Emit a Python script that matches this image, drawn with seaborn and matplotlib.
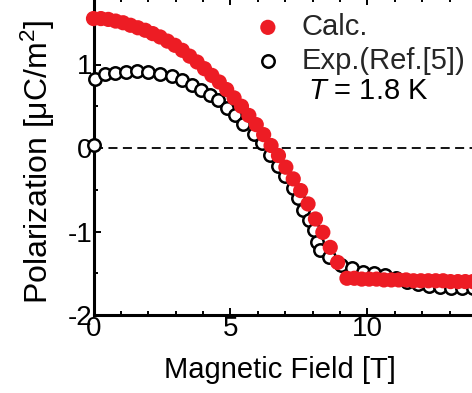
import matplotlib
matplotlib.use("Agg")
import matplotlib.pyplot as plt
from matplotlib.ticker import MultipleLocator
import seaborn as sns

# Calculated polarization vs. magnetic field
field_calc = [0.00, 0.27, 0.54, 0.81, 1.08, 1.35, 1.62, 1.89, 2.16, 2.43,
              2.70, 2.97, 3.24, 3.51, 3.78, 4.05, 4.32, 4.59, 4.86, 5.13,
              5.40, 5.67, 5.94, 6.21, 6.48, 6.75, 7.02, 7.29, 7.56, 7.83,
              8.10, 8.37, 8.64, 8.91, 9.25, 9.52, 9.79, 10.06, 10.33, 10.60,
              10.87, 11.14, 11.41, 11.68, 11.95, 12.22, 12.49, 12.76, 13.03, 13.30,
              13.57, 13.84, 14.11, 14.38]
pol_calc = [1.55, 1.55, 1.54, 1.52, 1.50, 1.47, 1.44, 1.41, 1.37, 1.33,
            1.28, 1.23, 1.17, 1.10, 1.03, 0.95, 0.87, 0.79, 0.70, 0.60,
            0.50, 0.39, 0.28, 0.16, 0.03, -0.09, -0.23, -0.37, -0.51, -0.67,
            -0.85, -1.01, -1.19, -1.37, -1.56, -1.56, -1.57, -1.57, -1.57, -1.58,
            -1.58, -1.58, -1.58, -1.59, -1.59, -1.59, -1.59, -1.59, -1.60, -1.60,
            -1.60, -1.60, -1.60, -1.60]

# Measured polarization (Ref. [5])
field_exp = [0.00, 0.06, 0.43, 0.80, 1.19, 1.58, 2.00, 2.43, 2.86, 3.23,
             3.59, 3.93, 4.26, 4.55, 4.87, 5.17, 5.47, 5.84, 6.15, 6.45,
             6.75, 6.98, 7.28, 7.48, 7.66, 7.85, 8.03, 8.15, 8.27, 8.58,
             9.05, 9.43, 9.85, 10.22, 10.65, 11.05, 11.45, 11.85, 12.25, 12.65,
             13.05, 13.45, 13.85, 14.25]
pol_exp = [0.03, 0.83, 0.89, 0.90, 0.91, 0.92, 0.91, 0.89, 0.86, 0.81,
           0.75, 0.70, 0.63, 0.57, 0.48, 0.40, 0.29, 0.17, 0.06, -0.08,
           -0.22, -0.34, -0.48, -0.60, -0.74, -0.86, -0.98, -1.12, -1.22, -1.31,
           -1.40, -1.44, -1.48, -1.50, -1.52, -1.56, -1.60, -1.63, -1.65, -1.67,
           -1.68, -1.68, -1.68, -1.68]

x_ticks = [0, 5, 10]
y_ticks = [-2, -1, 0, 1]

sns.set_theme(style="ticks")
plt.rcParams['font.family'] = ['Liberation Sans', 'DejaVu Sans']
plt.rcParams['mathtext.fontset'] = 'custom'
plt.rcParams['mathtext.rm'] = 'Liberation Sans'
plt.rcParams['mathtext.it'] = 'Liberation Sans:italic'
plt.rcParams['axes.unicode_minus'] = False

W, H = 472, 393
X_MAX = 14.3
fig = plt.figure(figsize=(W / 100, H / 100), dpi=100)
ax = fig.add_axes([93.5 / W, 78 / H, X_MAX * 27.4 / W, 3.8 * 83.5 / H])

ax.axhline(0, color='black', lw=1.3, ls=(0, (5, 3)), zorder=1)

sns.scatterplot(x=field_exp, y=pol_exp, ax=ax, marker='o', s=80,
                color='white', edgecolor='black', linewidth=1.8,
                label='Exp.(Ref.[5])', zorder=3, clip_on=False)
sns.scatterplot(x=field_calc, y=pol_calc, ax=ax, marker='o', s=120,
                color='#ed1c24', edgecolor='none', linewidth=0,
                label='Calc.', zorder=4, clip_on=False)

ax.set_xlim(0, X_MAX)
ax.set_ylim(-2, 1.8)
ax.set_xticks(x_ticks)
ax.set_yticks(y_ticks)
ax.xaxis.set_minor_locator(MultipleLocator(1))
ax.yaxis.set_minor_locator(MultipleLocator(0.5))

for side in ['top', 'right', 'bottom', 'left']:
    ax.spines[side].set_visible(True)
    ax.spines[side].set_linewidth(2.2)
    ax.spines[side].set_color('black')

ax.tick_params(which='both', direction='in', top=True, right=True,
               color='black', width=1.4, labelsize=20, pad=1,
               labelcolor='black')
ax.tick_params(which='major', length=5)
ax.tick_params(which='minor', length=3.2)

ax.set_xlabel('Magnetic Field [T]', fontsize=21, color='black')
ax.set_ylabel('Polarization [μC/m$^2$]', fontsize=23, color='black')
ax.xaxis.set_label_coords(0.475, -0.13)
ax.yaxis.set_label_coords(-0.092, 0.483)

handles, labels = ax.get_legend_handles_labels()
order = [labels.index('Calc.'), labels.index('Exp.(Ref.[5])')]
ax.legend([handles[i] for i in order], [labels[i] for i in order],
          loc='upper left', bbox_to_anchor=(254 / W, 1 - 13 / H),
          bbox_transform=fig.transFigure, frameon=False, fontsize=21,
          handlelength=0.95, handletextpad=0.68, labelspacing=0.2,
          borderpad=0, borderaxespad=0)

fig.text(308 / W, 1 - 91 / H, '$T$ = 1.8 K', fontsize=21,
         ha='left', va='center', color='black')

fig.savefig('out.png', dpi=100)
